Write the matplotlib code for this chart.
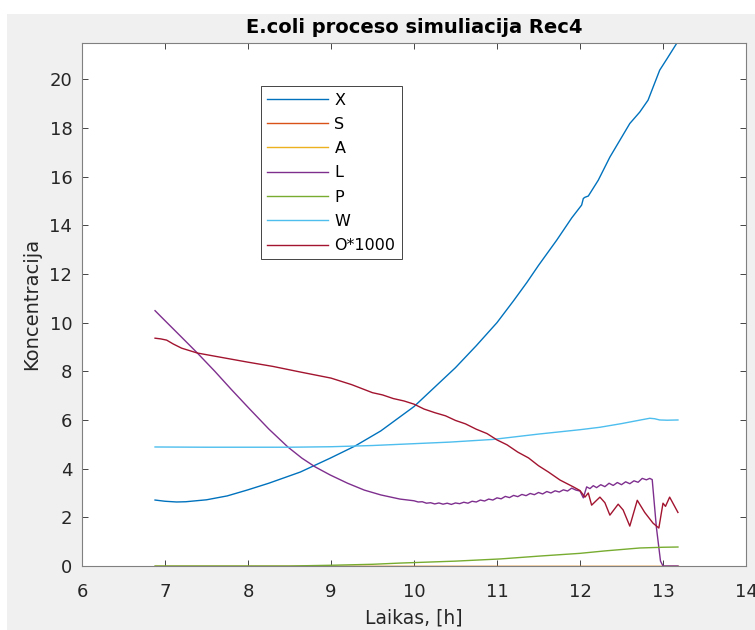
import numpy as np
import matplotlib
matplotlib.use('Agg')
import matplotlib.pyplot as plt
from matplotlib.patches import Rectangle

plt.rcParams['font.family'] = ['DejaVu Sans']

# X - biomass
t_X = [6.88, 7.0, 7.14, 7.25, 7.5, 7.75, 7.99, 8.25, 8.63, 8.99, 9.29, 9.6, 10.0,
       10.25, 10.5, 10.75, 11.0, 11.2, 11.36, 11.5, 11.72, 11.9, 12.02, 12.04, 12.06,
       12.1, 12.22, 12.36, 12.6, 12.72, 12.82, 12.96, 13.05, 13.17]
X = [2.71, 2.66, 2.63, 2.64, 2.72, 2.88, 3.12, 3.40, 3.86, 4.43, 4.93, 5.55, 6.55,
     7.35, 8.15, 9.05, 10.00, 10.90, 11.65, 12.35, 13.39, 14.30, 14.83, 15.10, 15.15,
     15.20, 15.85, 16.80, 18.18, 18.65, 19.14, 20.37, 20.85, 21.50]

# S, A - substrate, acetate
t_S = [6.88, 13.18]
S = [0.0, 0.0]
t_A = [6.88, 13.18]
A = [0.0, 0.0]

# L
t_L = [6.88, 7.0, 7.2, 7.39, 7.6, 7.8, 8.02, 8.25, 8.48, 8.65, 8.81, 8.99, 9.2, 9.4, 9.6, 9.83,
       10.00, 10.05, 10.10, 10.15, 10.20, 10.25, 10.30, 10.35, 10.40, 10.45, 10.50, 10.55,
       10.60, 10.65, 10.70, 10.75, 10.80, 10.85, 10.90, 10.95, 11.00, 11.05, 11.10, 11.15,
       11.20, 11.25, 11.30, 11.35, 11.40, 11.45, 11.50, 11.55, 11.60, 11.65, 11.70, 11.75,
       11.80, 11.85, 11.90, 11.95, 12.00, 12.04, 12.08, 12.12, 12.16, 12.20, 12.25, 12.30,
       12.35, 12.40, 12.45, 12.50, 12.55, 12.60, 12.65, 12.70, 12.75, 12.80, 12.84, 12.87,
       12.92, 12.97, 13.00, 13.18]
L = [10.49, 10.08, 9.40, 8.75, 8.00, 7.25, 6.45, 5.63, 4.89, 4.43, 4.07, 3.74, 3.40, 3.12, 2.92, 2.75,
     2.68, 2.63, 2.64, 2.58, 2.60, 2.55, 2.59, 2.54, 2.58, 2.53, 2.59, 2.56,
     2.62, 2.58, 2.66, 2.63, 2.71, 2.67, 2.75, 2.71, 2.80, 2.76, 2.86, 2.81,
     2.90, 2.85, 2.94, 2.89, 2.98, 2.93, 3.02, 2.96, 3.06, 3.00, 3.09, 3.04,
     3.13, 3.08, 3.20, 3.12, 3.08, 2.80, 3.25, 3.18, 3.30, 3.22, 3.34, 3.26,
     3.40, 3.31, 3.43, 3.34, 3.46, 3.38, 3.50, 3.44, 3.60, 3.54, 3.60, 3.55,
     1.60, 0.20, 0.0, 0.0]

# P
t_P = [6.88, 8.5, 9.0, 9.5, 9.83, 10.5, 11.04, 11.52, 12.0, 12.3, 12.72, 13.0, 13.18]
P = [0.0, 0.0, 0.03, 0.07, 0.12, 0.20, 0.29, 0.41, 0.52, 0.62, 0.74, 0.77, 0.78]

# W
t_W = [6.88, 7.5, 8.0, 8.5, 9.0, 9.5, 9.83, 10.43, 10.95, 11.5, 12.0, 12.24, 12.5,
       12.7, 12.84, 12.9, 12.96, 13.05, 13.18]
W = [4.89, 4.88, 4.88, 4.88, 4.90, 4.95, 5.00, 5.09, 5.20, 5.42, 5.60, 5.70, 5.85,
     5.98, 6.07, 6.05, 6.00, 5.99, 6.00]

# O*1000
t_O = [6.88, 6.95, 7.02, 7.1, 7.2, 7.39, 7.6, 7.99, 8.3, 8.63, 9.0, 9.25, 9.5, 9.62, 9.75,
       9.88, 10.0, 10.12, 10.25, 10.38, 10.5, 10.62, 10.75, 10.88, 11.0, 11.12, 11.25,
       11.38, 11.5, 11.62, 11.76, 11.92, 12.0, 12.06, 12.1, 12.14, 12.24, 12.3, 12.36,
       12.46, 12.52, 12.6, 12.69, 12.78, 12.88, 12.95, 13.0, 13.03, 13.08, 13.18]
O = [9.36, 9.33, 9.28, 9.12, 8.95, 8.75, 8.62, 8.38, 8.20, 7.97, 7.72, 7.45, 7.12, 7.03, 6.88,
     6.78, 6.65, 6.45, 6.30, 6.17, 5.98, 5.84, 5.62, 5.44, 5.18, 4.98, 4.68,
     4.44, 4.12, 3.86, 3.53, 3.25, 3.10, 2.83, 3.00, 2.50, 2.83, 2.60, 2.09,
     2.54, 2.30, 1.64, 2.70, 2.20, 1.76, 1.56, 2.58, 2.45, 2.83, 2.20]

series = [('X', t_X, X, '#0072BD'), ('S', t_S, S, '#D95319'), ('A', t_A, A, '#EDB120'),
          ('L', t_L, L, '#7E2F8E'), ('P', t_P, P, '#77AC30'), ('W', t_W, W, '#4DBEEE'),
          ('O*1000', t_O, O, '#A2142F')]

fig = plt.figure(figsize=(7.55, 6.3), dpi=100, facecolor='white')
fig.patches.append(Rectangle((7 / 755, 0), 1, (630 - 14) / 630, transform=fig.transFigure,
                             facecolor='#f0f0f0', edgecolor='none', zorder=-10))
ax = fig.add_axes([82 / 755, 64 / 630, 664 / 755, 523.3 / 630])

for name, t, y, c in series:
    ax.plot(t, y, color=c, lw=1.0, label=name)

ax.set_xlim(6, 14)
ax.set_ylim(0, 21.5)
ax.set_xticks(np.arange(6, 15, 1))
ax.set_yticks(np.arange(0, 21, 2))

for sp in ax.spines.values():
    sp.set_color('#808080')
    sp.set_linewidth(0.8)
ax.tick_params(direction='in', top=True, right=True, length=4.5, width=0.6,
               color='#262626', labelsize=13, labelcolor='#262626')
ax.tick_params(axis='x', pad=12)
ax.tick_params(axis='y', pad=7)

ax.set_title('E.coli proceso simuliacija Rec4', fontsize=14, fontweight='bold', pad=7)
ax.set_xlabel('Laikas, [h]', fontsize=13.5, color='#262626', labelpad=6)
ax.set_ylabel('Koncentracija', fontsize=14, color='#262626', labelpad=6)

leg = ax.legend(loc='upper left', bbox_to_anchor=(0.2696, 0.917), borderaxespad=0,
                fontsize=11.5, handlelength=3.8, handletextpad=0.4, labelspacing=0.58,
                borderpad=0.4, fancybox=False, framealpha=1, edgecolor='#262626')
leg.get_frame().set_linewidth(0.6)

fig.savefig('out.png', dpi=100, facecolor=fig.get_facecolor())
